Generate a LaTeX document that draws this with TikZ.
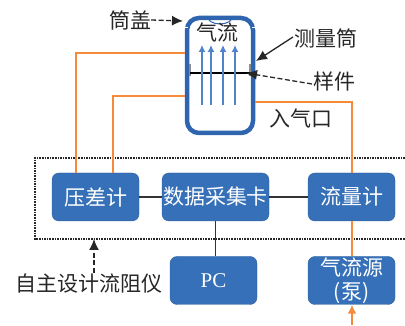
\documentclass[tikz,border=0pt]{standalone}
\usepackage{fontspec}
\setmainfont{Liberation Serif}
\newfontfamily\cjk{Noto Sans CJK SC}
\usetikzlibrary{arrows.meta}
\definecolor{boxblue}{HTML}{3670B8}
\definecolor{tubeblue}{HTML}{2F64AE}
\definecolor{flowblue}{HTML}{4F84CC}
\definecolor{pipe}{HTML}{F58B3A}
\begin{document}
\begin{tikzpicture}[x=1pt,y=-1pt,
  main/.style = {draw=boxblue!85!black, line width=0.4pt, fill=boxblue, rounded corners=7pt, text=white, minimum width=87pt, minimum height=48pt, inner sep=0pt, font=\fontsize{21}{23}\selectfont\cjk, align=center},
  label/.style = {inner sep=0pt, text=black!85, font=\fontsize{21}{23}\selectfont\cjk},
  pipeline/.style = {draw=pipe, line width=1.7pt},
  wire/.style = {draw=black!80, line width=1.6pt},
  pointer/.style = {draw=black!85, line width=1.3pt, dash pattern=on 5pt off 2.5pt, -{Latex[length=11pt,width=10pt]}},
  flow/.style = {draw=flowblue, line width=1.3pt, -{Latex[length=7pt,width=7pt]}}]
\useasboundingbox (0,0) rectangle (405,326);
\draw[black!85, line width=1.8pt, dash pattern=on 1.6pt off 1pt] (405,158) -- (35,158) -- (35,239) -- (405,239);
\node[main] (dp) at (95.5,197) {压差计};
\node[main, minimum width=107pt] (card) at (215.5,197) {数据采集卡};
\node[main] (fm) at (351.5,197) {流量计};
\node[main] (pc) at (213.5,280.5) {\fontsize{21}{23}\selectfont\rmfamily PC};
\node[main, font=\fontsize{21}{24}\selectfont\cjk] (src) at (351.5,280.5) {气流源\\(泵)};
\draw[wire] (dp) -- (card);
\draw[wire] (card) -- (fm);
\draw[wire] (card.south) -- (card.south |- pc.north);
% measuring tube
\node[draw=tubeblue, line width=4.5pt, rounded corners=12pt, minimum width=66pt, minimum height=115pt, inner sep=0pt] (tube) at (220,75.5) {};
\draw[white, line width=1pt] (183,28) -- (188,28) (252,28) -- (257,28);
\draw[tubeblue, line width=1pt] (207,16) arc (180:0:13 and 8);
\draw[black!45, line width=1.5pt] (190,64) -- (190,76) (250,64) -- (250,76);
\coordinate (sl) at (190,73);
\coordinate (sr) at (250,73);
\draw[black, line width=2.2pt] (sl) -- (sr);
\foreach \x in {202,211,223,235}
  \draw[flow] (\x,105) -- (\x,45);
\node[label] (air) at (217,32) {气流};
% gas lines
\coordinate (c1) at (76,173);
\coordinate (c2) at (113,173);
\coordinate (c3) at (352,173);
\coordinate (t1) at (185,53);
\coordinate (t2) at (185,96);
\coordinate (t3) at (255,102);
\draw[pipeline] (c1) |- (t1);
\draw[pipeline] (c2) |- (t2);
\draw[pipeline] (c3) |- (t3);
\draw[pipeline] (fm.south -| c3) -- (src.north -| c3);
\coordinate (in) at (352,325);
\draw[pipeline, -{Latex[length=9pt,width=9pt]}] (in) -- (src.south -| in);
% labels
\node[label] (lid) at (130,20) {筒盖};
\node[label] (cyl) at (326,38) {测量筒};
\node[label] (samp) at (334,81) {样件};
\node[label] (inlet) at (301,118) {入气口};
\node[label] (self) at (89,284) {自主设计流阻仪};
\coordinate (e1) at (183,21);
\coordinate (e2) at (256,61);
\coordinate (e3) at (246,73);
\coordinate (e4) at (94,239);
\coordinate (s4) at (94,273);
\draw[pointer] (lid.east) -- (e1);
\draw[pointer, solid] (293,37) -- (e2);
\draw[pointer] (312,84) -- (e3);
\draw[pointer] (s4) -- (e4);
\end{tikzpicture}
\end{document}
